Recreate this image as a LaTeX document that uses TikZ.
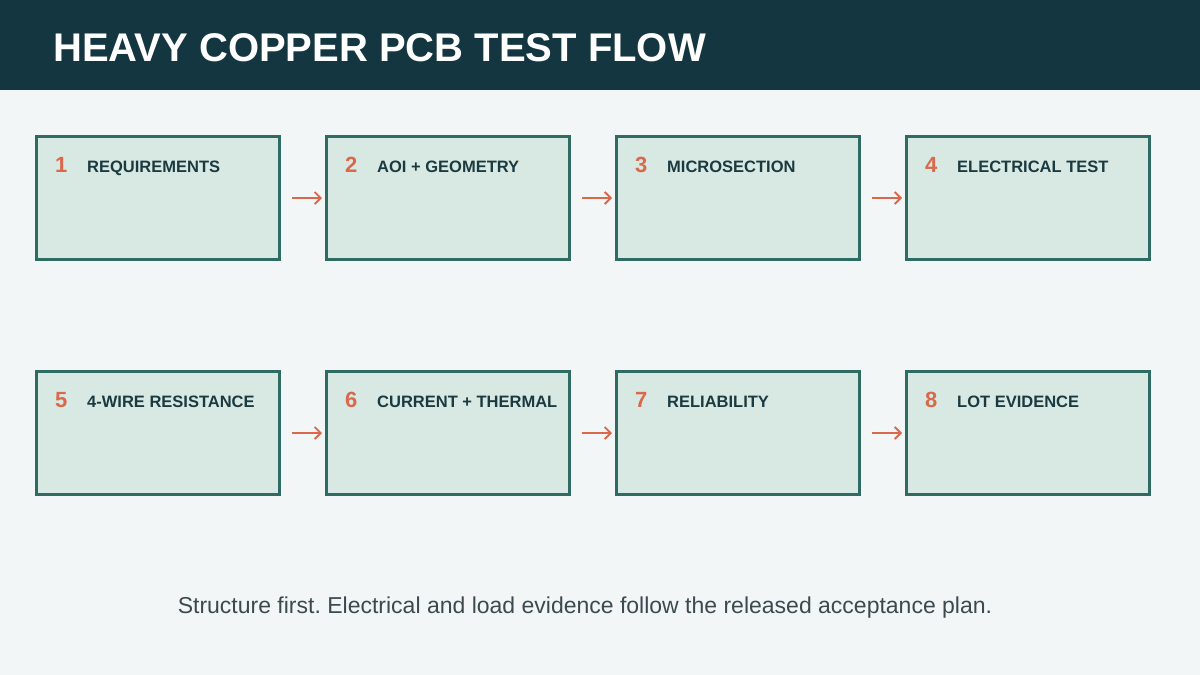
\documentclass[tikz,border=0pt]{standalone}
\usepackage{fontspec}
\setmainfont{Liberation Sans}
\usetikzlibrary{positioning}
\usetikzlibrary{arrows.meta}
\frenchspacing
\definecolor{headbg}{HTML}{143640}
\definecolor{pagebg}{HTML}{F2F6F7}
\definecolor{boxfill}{HTML}{D8E9E4}
\definecolor{boxline}{HTML}{2E6B63}
\definecolor{accent}{HTML}{D9694A}
\definecolor{inktext}{HTML}{1B3A40}
\definecolor{notetext}{HTML}{3C4A50}
\tikzstyle{etape}=[rectangle,draw=boxline,line width=3pt,fill=boxfill,minimum width=243pt,minimum height=123pt,inner sep=0pt]
\tikzstyle{numero}=[anchor=base west,text=accent,font=\fontsize{22}{22}\selectfont\bfseries,inner sep=0pt]
\tikzstyle{titre}=[anchor=base west,text=inktext,font=\fontsize{16.5}{16.5}\selectfont\bfseries,inner sep=0pt]
\tikzstyle{entete}=[anchor=base west,text=white,font=\fontsize{40}{40}\selectfont\bfseries,inner sep=0pt]
\tikzstyle{note}=[text=notetext,font=\fontsize{23}{23}\selectfont,inner sep=0pt]
\tikzstyle{suite}=[-{Straight Barb[length=6pt,width=12pt]},draw=accent,line width=1.8pt,shorten <=11pt,shorten >=3pt]
\begin{document}
\begin{tikzpicture}[x=1pt,y=-1pt]
\fill[pagebg] (0,0) rectangle (1200,675);
\fill[headbg] (0,0) rectangle (1200,90);
\useasboundingbox (0,0) rectangle (1200,675);
\node[entete] (head) at (53,61) {HEAVY COPPER PCB TEST FLOW};
%Etapes
\node[etape] (e1) at (158,198) {};
\node[etape] (e2) at (448,198) {};
\node[etape] (e3) at (738,198) {};
\node[etape] (e4) at (1028,198) {};
\node[etape] (e5) at (158,433) {};
\node[etape] (e6) at (448,433) {};
\node[etape] (e7) at (738,433) {};
\node[etape] (e8) at (1028,433) {};
%Numeros et titres
\node[numero] (n1) at ([xshift=20pt,yshift=-37pt]e1.north west) {1};
\node[titre] (t1) at ([xshift=52pt,yshift=-37pt]e1.north west) {REQUIREMENTS};
\node[numero] (n2) at ([xshift=20pt,yshift=-37pt]e2.north west) {2};
\node[titre] (t2) at ([xshift=52pt,yshift=-37pt]e2.north west) {AOI + GEOMETRY};
\node[numero] (n3) at ([xshift=20pt,yshift=-37pt]e3.north west) {3};
\node[titre] (t3) at ([xshift=52pt,yshift=-37pt]e3.north west) {MICROSECTION};
\node[numero] (n4) at ([xshift=20pt,yshift=-37pt]e4.north west) {4};
\node[titre] (t4) at ([xshift=52pt,yshift=-37pt]e4.north west) {ELECTRICAL TEST};
\node[numero] (n5) at ([xshift=20pt,yshift=-37pt]e5.north west) {5};
\node[titre] (t5) at ([xshift=52pt,yshift=-37pt]e5.north west) {4-WIRE RESISTANCE};
\node[numero] (n6) at ([xshift=20pt,yshift=-37pt]e6.north west) {6};
\node[titre] (t6) at ([xshift=52pt,yshift=-37pt]e6.north west) {CURRENT + THERMAL};
\node[numero] (n7) at ([xshift=20pt,yshift=-37pt]e7.north west) {7};
\node[titre] (t7) at ([xshift=52pt,yshift=-37pt]e7.north west) {RELIABILITY};
\node[numero] (n8) at ([xshift=20pt,yshift=-37pt]e8.north west) {8};
\node[titre] (t8) at ([xshift=52pt,yshift=-37pt]e8.north west) {LOT EVIDENCE};
%Fleches
\draw[suite] (e1) -- (e2);
\draw[suite] (e2) -- (e3);
\draw[suite] (e3) -- (e4);
\draw[suite] (e5) -- (e6);
\draw[suite] (e6) -- (e7);
\draw[suite] (e7) -- (e8);
\node[note] (pied) at (585,608) {Structure first. Electrical and load evidence follow the released acceptance plan.};
\end{tikzpicture}
\end{document}
